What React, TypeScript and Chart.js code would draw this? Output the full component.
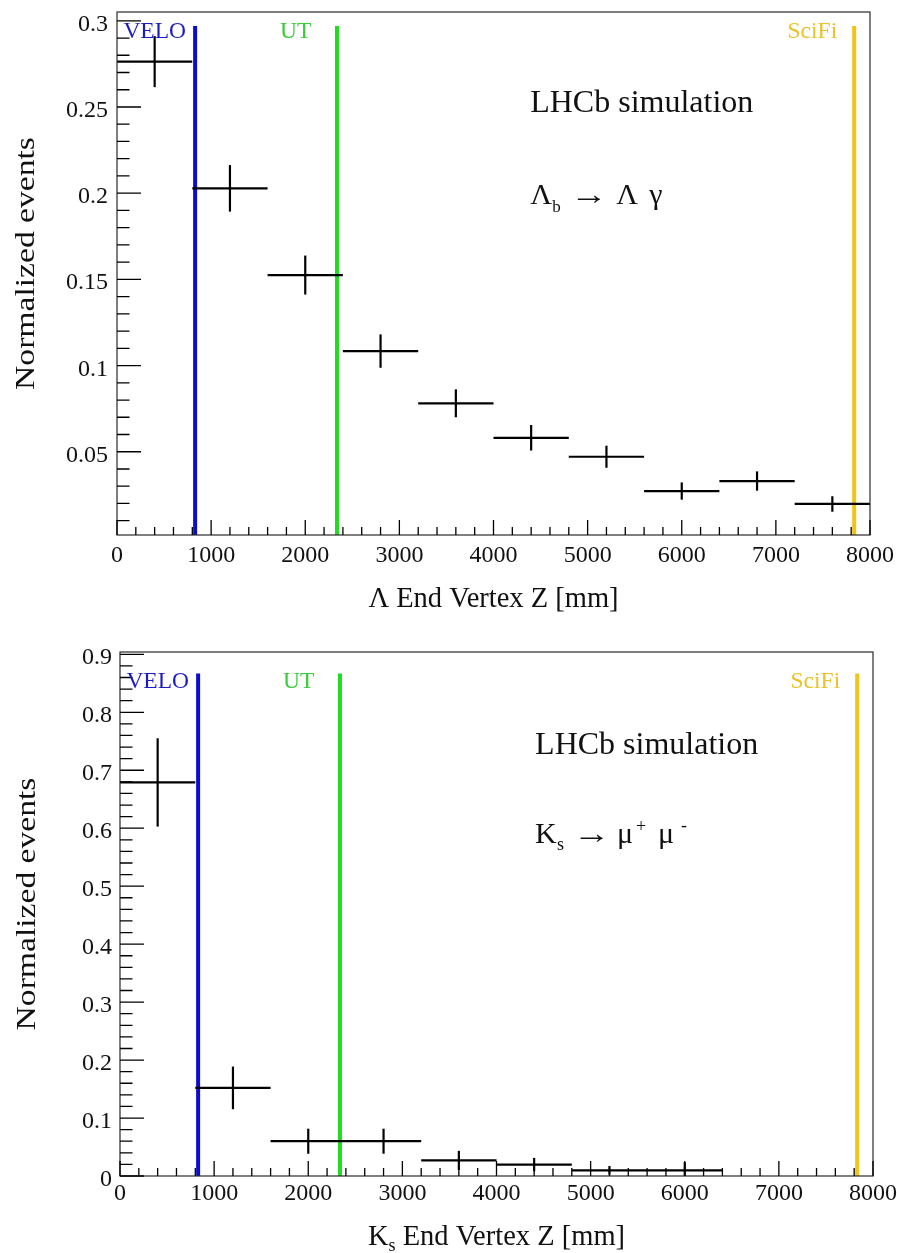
import React, { useEffect, useRef } from 'react';
import { Chart, registerables } from 'chart.js';

Chart.register(...registerables);

// ---------- data ----------
const binEdges = [0, 800, 1600, 2400, 3200, 4000, 4800, 5600, 6400, 7200, 8000];

const lambdaValues = [0.2763, 0.2028, 0.1525, 0.1084, 0.0781, 0.0581, 0.0471, 0.0272, 0.033, 0.0197];
const lambdaErrors = [0.0148, 0.0135, 0.0113, 0.0097, 0.0081, 0.0074, 0.0064, 0.005, 0.0056, 0.0045];

const ksValues: (number | null)[] = [0.679, 0.152, 0.06, 0.06, 0.027, 0.0197, 0.0098, 0.0098, null, null];
const ksErrors: (number | null)[] = [0.0762, 0.0368, 0.0216, 0.0216, 0.0164, 0.0115, 0.0075, 0.014, null, null];

const detectorNames = ['VELO', 'UT', 'SciFi'];
const detectorZ = [830, 2337, 7832];
const detectorLabelZ = [68, 1732, 7124];
const detectorLineColors = ['#0b0bd2', '#22dc22', '#f0c418'];
const detectorTextColors = ['#1c1cc4', '#3acc3a', '#e8c22a'];

const xTickValues = [0, 1000, 2000, 3000, 4000, 5000, 6000, 7000, 8000];
const xTickLabels = ['0', '1000', '2000', '3000', '4000', '5000', '6000', '7000', '8000'];

const lambdaYTicks = [0.05, 0.1, 0.15, 0.2, 0.25, 0.3];
const lambdaYTickLabels = ['0.05', '0.1', '0.15', '0.2', '0.25', '0.3'];

const ksYTicks = [0, 0.1, 0.2, 0.3, 0.4, 0.5, 0.6, 0.7, 0.8, 0.9];
const ksYTickLabels = ['0', '0.1', '0.2', '0.3', '0.4', '0.5', '0.6', '0.7', '0.8', '0.9'];

const yTitle = 'Normalized events';
const lhcbText = 'LHCb simulation';

// rich-text pieces: dx = offset from text start (px), dy = baseline shift, sx = horizontal stretch
type Seg = { t: string; size: number; dx?: number; dy?: number; sx?: number };

const lambdaDecay: Seg[] = [
  { t: 'Λ', size: 30, dx: 0 },
  { t: 'b', size: 17, dx: 22, dy: 7.5 },
  { t: '→', size: 30, dx: 40, sx: 1.25 },
  { t: 'Λ', size: 30, dx: 86 },
  { t: 'γ', size: 30, dx: 119 },
];
const ksDecay: Seg[] = [
  { t: 'K', size: 30, dx: 0 },
  { t: 's', size: 18, dx: 22, dy: 7 },
  { t: '→', size: 30, dx: 38, sx: 1.25 },
  { t: 'μ', size: 30, dx: 82 },
  { t: '+', size: 18, dx: 101, dy: -11 },
  { t: 'μ', size: 30, dx: 123 },
  { t: '-', size: 18, dx: 146, dy: -12 },
];
const lambdaXTitle: Seg[] = [{ t: 'Λ End Vertex Z [mm]', size: 28.5 }];
const ksXTitle: Seg[] = [
  { t: 'K', size: 28.5 },
  { t: 's', size: 18, dy: 6 },
  { t: ' End Vertex Z [mm]', size: 28.5 },
];

const FONT = '"Liberation Serif", "Times New Roman", serif';

// ---------- chart configs ----------
const topCfg = {
  height: 626,
  area: { left: 117, top: 12, right: 870, bottom: 535 },
  yMin: 0.0017,
  yMax: 0.3051,
  values: lambdaValues as (number | null)[],
  errors: lambdaErrors as (number | null)[],
  yTicks: lambdaYTicks,
  yTickLabels: lambdaYTickLabels,
  yMinorStep: 0.01,
  lineTop: 0.297,
  detLabelY: 0.2899,
  lhcbY: 0.2469,
  decay: lambdaDecay,
  decayY: 0.1937,
  textZ: 4390,
  xTitle: lambdaXTitle,
  xTitleOffset: 72,
  xLabelOffset: 26.7,
  yLabelGap: 9,
  yTitleX: 33.5,
};

const bottomCfg = {
  height: 627,
  area: { left: 120, top: 26, right: 873, bottom: 550 },
  yMin: 0,
  yMax: 0.904,
  values: ksValues,
  errors: ksErrors,
  yTicks: ksYTicks,
  yTickLabels: ksYTickLabels,
  yMinorStep: 0.02,
  lineTop: 0.867,
  detLabelY: 0.8418,
  lhcbY: 0.7287,
  decay: ksDecay,
  decayY: 0.574,
  textZ: 4410,
  xTitle: ksXTitle,
  xTitleOffset: 69.3,
  xLabelOffset: 24.3,
  yLabelGap: 8,
  yTitleX: 35,
};

type Cfg = typeof topCfg;

function drawRich(ctx: CanvasRenderingContext2D, segs: Seg[], x: number, y: number, align: 'left' | 'center') {
  ctx.textAlign = 'left';
  ctx.textBaseline = 'alphabetic';
  const positioned = segs.every((s) => s.dx !== undefined);
  if (positioned) {
    segs.forEach((s) => {
      ctx.font = `${s.size}px ${FONT}`;
      ctx.save();
      ctx.translate(x + (s.dx || 0), y + (s.dy || 0));
      ctx.scale(s.sx || 1, 1);
      ctx.fillText(s.t, 0, 0);
      ctx.restore();
    });
    return;
  }
  let total = 0;
  const widths = segs.map((s) => {
    ctx.font = `${s.size}px ${FONT}`;
    const w = ctx.measureText(s.t).width;
    total += w;
    return w;
  });
  let cx = align === 'center' ? x - total / 2 : x;
  segs.forEach((s, i) => {
    ctx.font = `${s.size}px ${FONT}`;
    ctx.fillText(s.t, cx, y + (s.dy || 0));
    cx += widths[i];
  });
}

function makePlugin(cfg: Cfg) {
  return {
    id: 'rootFrame',
    afterDatasetsDraw(chart: any) {
      const ctx: CanvasRenderingContext2D = chart.ctx;
      const xs = chart.scales.x;
      const ys = chart.scales.y;
      const { left, right, top, bottom } = chart.chartArea;
      ctx.save();

      // frame
      ctx.strokeStyle = '#2a2a2a';
      ctx.lineWidth = 1.2;
      ctx.strokeRect(left, top, right - left, bottom - top);

      // x ticks (inward)
      ctx.strokeStyle = '#000';
      ctx.lineWidth = 1.3;
      ctx.beginPath();
      for (let v = 0; v <= 8000; v += 200) {
        const px = xs.getPixelForValue(v);
        const major = v % 1000 === 0;
        ctx.moveTo(px, bottom);
        ctx.lineTo(px, bottom - (major ? 15 : 8));
      }
      // y ticks (inward)
      const nMinor = Math.round(cfg.yMax / cfg.yMinorStep);
      for (let k = 0; k <= nMinor; k++) {
        const v = k * cfg.yMinorStep;
        if (v < cfg.yMin - 1e-9 || v > cfg.yMax + 1e-9) continue;
        const py = ys.getPixelForValue(v);
        const major = cfg.yTicks.some((t) => Math.abs(t - v) < 1e-6);
        ctx.moveTo(left, py);
        ctx.lineTo(left + (major ? 24 : 12.5), py);
      }
      ctx.stroke();

      // tick labels
      ctx.fillStyle = '#111';
      ctx.font = `24px ${FONT}`;
      ctx.textAlign = 'center';
      ctx.textBaseline = 'alphabetic';
      xTickValues.forEach((v, i) => {
        ctx.fillText(xTickLabels[i], xs.getPixelForValue(v), bottom + cfg.xLabelOffset);
      });
      ctx.textAlign = 'right';
      cfg.yTicks.forEach((v, i) => {
        ctx.fillText(cfg.yTickLabels[i], left - cfg.yLabelGap, ys.getPixelForValue(v) + 10);
      });

      // axis titles
      ctx.fillStyle = '#111';
      drawRich(ctx, cfg.xTitle, (left + right) / 2, bottom + cfg.xTitleOffset, 'center');

      ctx.save();
      ctx.translate(cfg.yTitleX, (top + bottom) / 2 - 10);
      ctx.rotate(-Math.PI / 2);
      ctx.scale(1.2, 1);
      ctx.font = `28px ${FONT}`;
      ctx.textAlign = 'center';
      ctx.textBaseline = 'alphabetic';
      ctx.fillText(yTitle, 0, 0);
      ctx.restore();

      // detector labels
      ctx.font = `23.5px ${FONT}`;
      ctx.textAlign = 'left';
      ctx.textBaseline = 'alphabetic';
      detectorNames.forEach((n, i) => {
        ctx.fillStyle = detectorTextColors[i];
        ctx.fillText(n, xs.getPixelForValue(detectorLabelZ[i]), ys.getPixelForValue(cfg.detLabelY));
      });

      // annotations
      ctx.fillStyle = '#111';
      ctx.font = `32px ${FONT}`;
      ctx.fillText(lhcbText, xs.getPixelForValue(cfg.textZ), ys.getPixelForValue(cfg.lhcbY));
      drawRich(ctx, cfg.decay, xs.getPixelForValue(cfg.textZ), ys.getPixelForValue(cfg.decayY), 'left');

      ctx.restore();
    },
  };
}

function buildDatasets(cfg: Cfg) {
  const style = {
    borderColor: '#000',
    borderWidth: 2.2,
    pointRadius: 0,
    showLine: true,
    fill: false,
    borderCapStyle: 'butt' as const,
  };
  const ds: any[] = [];
  cfg.values.forEach((v, i) => {
    const e = cfg.errors[i];
    if (v == null || e == null) return;
    const lo = binEdges[i];
    const hi = binEdges[i + 1];
    const c = (lo + hi) / 2;
    ds.push({ ...style, data: [{ x: lo, y: v }, { x: hi, y: v }] });
    ds.push({ ...style, data: [{ x: c, y: v - e }, { x: c, y: v + e }] });
  });
  detectorZ.forEach((z, i) => {
    ds.push({
      borderColor: detectorLineColors[i],
      borderWidth: 4,
      pointRadius: 0,
      showLine: true,
      fill: false,
      data: [{ x: z, y: cfg.yMin }, { x: z, y: cfg.lineTop }],
    });
  });
  return ds;
}

function HistChart({ cfg }: { cfg: Cfg }) {
  const ref = useRef<HTMLCanvasElement>(null);
  useEffect(() => {
    if (!ref.current) return;
    const chart = new Chart(ref.current, {
      type: 'scatter',
      data: { datasets: buildDatasets(cfg) },
      options: {
        responsive: false,
        animation: false,
        events: [],
        layout: {
          padding: {
            left: cfg.area.left,
            top: cfg.area.top,
            right: 897 - cfg.area.right,
            bottom: cfg.height - cfg.area.bottom,
          },
        },
        plugins: { legend: { display: false }, tooltip: { enabled: false } },
        scales: {
          x: { type: 'linear', min: 0, max: 8000, display: false },
          y: { type: 'linear', min: cfg.yMin, max: cfg.yMax, display: false },
        },
      },
      plugins: [makePlugin(cfg)],
    } as any);
    return () => chart.destroy();
  }, [cfg]);
  return (
    <canvas
      ref={ref}
      width={897}
      height={cfg.height}
      style={{ display: 'block', width: 897, height: cfg.height }}
    />
  );
}

export default function App() {
  return (
    <div style={{ position: 'absolute', left: 0, top: 0, width: 897, height: 1253, background: '#fff' }}>
      <HistChart cfg={topCfg} />
      <HistChart cfg={bottomCfg} />
    </div>
  );
}
